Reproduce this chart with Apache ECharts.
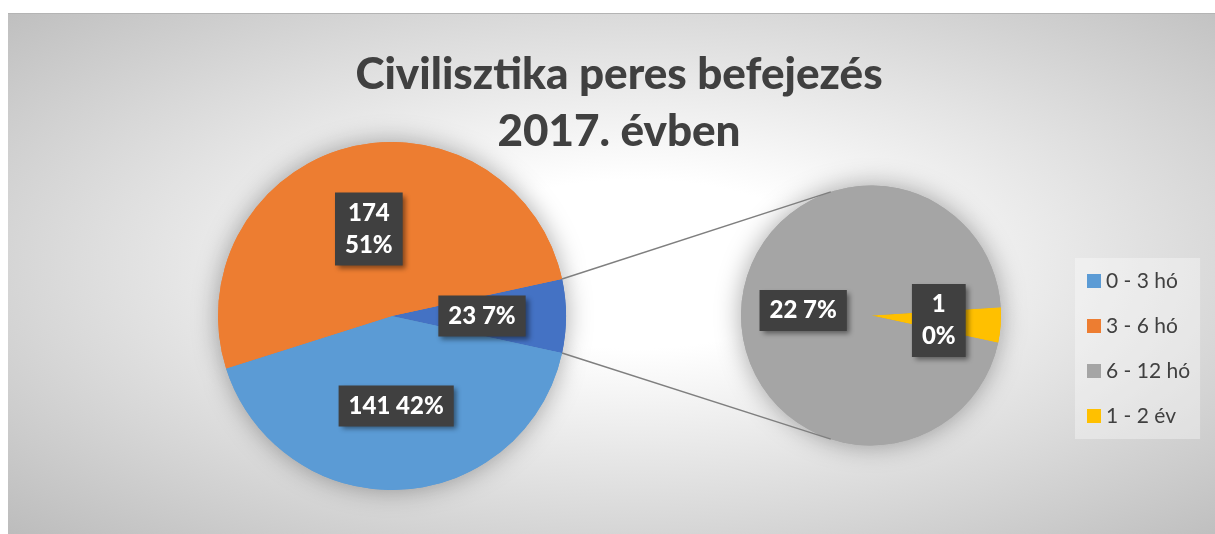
<!DOCTYPE html>
<html>
<head>
<meta charset="utf-8">
<script src="https://cdn.jsdelivr.net/npm/echarts@6/dist/echarts.min.js"></script>
<style>
  html, body { margin: 0; padding: 0; background: #ffffff; }
  #bg {
    position: absolute; left: 8px; top: 13px; width: 1207px; height: 521px;
    border-top: 1px solid #b4b4b4;
    background: radial-gradient(ellipse farthest-corner at 52% 48%, #ffffff 0%, #ffffff 22%, #bcbcbc 100%);
  }
  #chart { position: absolute; left: 0; top: 0; width: 1215px; height: 534px; }
</style>
</head>
<body>
<div id="bg"></div>
<div id="chart"></div>
<script>
// ---- data ----
const titleText = 'Civilisztika peres befejezés\n2017. évben';
const mainCategories = ['0 - 3 hó', '3 - 6 hó'];
const mainValues = [141, 174];
const subCategories = ['6 - 12 hó', '1 - 2 év'];
const subValues = [22, 1];
const otherName = 'Egyéb';
const legendNames = ['0 - 3 hó', '3 - 6 hó', '6 - 12 hó', '1 - 2 év'];

// ---- styling ----
const colors = {
  '0 - 3 hó': '#5B9BD5',
  '3 - 6 hó': '#ED7D31',
  '6 - 12 hó': '#A5A5A5',
  '1 - 2 év': '#FFC000',
  'Egyéb': '#4472C4'
};
const twoLineLabels = ['3 - 6 hó', '1 - 2 év'];
const FONT = 'Lato';
const leftCenter = [392, 316], leftR = 174;
const rightCenter = [871, 315.5], rightR = 130;

const otherValue = subValues.reduce((a, b) => a + b, 0);
const total = mainValues.reduce((a, b) => a + b, 0) + otherValue;
const halfOtherDeg = otherValue / total * 360 / 2;
const rightStart = 3.6;

const leftData = [{ name: otherName, value: otherValue }]
  .concat(mainCategories.map((n, i) => ({ name: n, value: mainValues[i] })));
const subYellowFirst = [1, 0];
const rightData = subYellowFirst.map(i => ({ name: subCategories[i], value: subValues[i] }));

function styled(d) {
  return d.map(x => Object.assign({}, x, { itemStyle: { color: colors[x.name] } }));
}

const labelCfg = {
  show: true,
  position: 'inside',
  formatter: p => {
    const pct = Math.round(p.value / total * 100) + '%';
    return p.value + (twoLineLabels.includes(p.name) ? '\n' : ' ') + pct;
  },
  color: '#ffffff',
  fontFamily: FONT,
  fontWeight: 900,
  fontSize: 24,
  lineHeight: 32,
  backgroundColor: '#404040',
  padding: [5, 10, 4, 10],
  shadowColor: 'rgba(0,0,0,0.45)',
  shadowBlur: 5,
  shadowOffsetX: 3,
  shadowOffsetY: 3
};

function pieSeries(data, center, r, start, shadow) {
  return {
    type: 'pie',
    center: center,
    radius: [0, r],
    startAngle: start,
    clockwise: true,
    silent: shadow,
    animation: false,
    data: styled(data),
    label: shadow ? { show: false } : labelCfg,
    labelLine: { show: false },
    itemStyle: shadow
      ? { shadowColor: 'rgba(0,0,0,0.35)', shadowBlur: 26, borderWidth: 0 }
      : { borderWidth: 0 },
    emphasis: { disabled: true },
    z: shadow ? 1 : 2
  };
}

// connector lines, derived from the pies' geometry
const a = halfOtherDeg * Math.PI / 180;
const b = 108 * Math.PI / 180;
const p1 = [leftCenter[0] + leftR * Math.cos(a), leftCenter[1] - leftR * Math.sin(a)];
const p2 = [leftCenter[0] + leftR * Math.cos(a), leftCenter[1] + leftR * Math.sin(a)];
const q1 = [rightCenter[0] + rightR * Math.cos(b), rightCenter[1] - rightR * Math.sin(b)];
const q2 = [rightCenter[0] + rightR * Math.cos(b), rightCenter[1] + rightR * Math.sin(b)];

const chart = echarts.init(document.getElementById('chart'), null, { renderer: 'canvas' });
chart.setOption({
  backgroundColor: 'transparent',
  animation: false,
  title: {
    text: titleText,
    left: 614,
    textAlign: 'center',
    top: 41,
    textStyle: {
      fontFamily: FONT, fontWeight: 900, fontSize: 44, lineHeight: 57, color: '#404040'
    }
  },
  legend: {
    data: legendNames,
    orient: 'vertical',
    left: 1075,
    top: 258,
    padding: [12, 10, 12, 12],
    itemWidth: 14,
    itemHeight: 14,
    itemGap: 23,
    icon: 'rect',
    backgroundColor: 'rgba(255,255,255,0.35)',
    textStyle: { fontFamily: FONT, fontSize: 21, color: '#404040', lineHeight: 22 },
    selectedMode: false
  },
  graphic: [
    { type: 'line', shape: { x1: p1[0], y1: p1[1], x2: q1[0], y2: q1[1] }, style: { stroke: '#7f7f7f', lineWidth: 1.5 }, z: 3 },
    { type: 'line', shape: { x1: p2[0], y1: p2[1], x2: q2[0], y2: q2[1] }, style: { stroke: '#7f7f7f', lineWidth: 1.5 }, z: 3 }
  ],
  series: [
    pieSeries(leftData, leftCenter, leftR, halfOtherDeg, true),
    pieSeries(rightData, rightCenter, rightR, rightStart, true),
    pieSeries(leftData, leftCenter, leftR, halfOtherDeg, false),
    pieSeries(rightData, rightCenter, rightR, rightStart, false)
  ]
});
</script>
</body>
</html>
